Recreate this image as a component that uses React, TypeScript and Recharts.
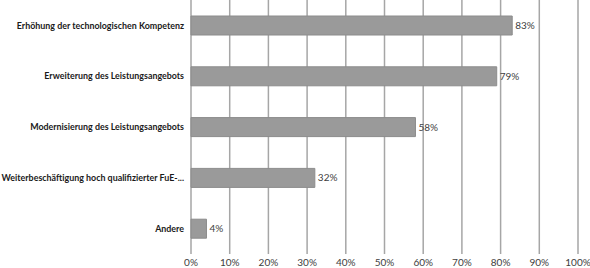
import { BarChart, Bar, XAxis, YAxis, CartesianGrid, LabelList } from "recharts";

const categories = [
  "Erhöhung der technologischen Kompetenz",
  "Erweiterung des Leistungsangebots",
  "Modernisierung des Leistungsangebots",
  "Weiterbeschäftigung hoch qualifizierter FuE-...",
  "Andere",
];
const shares = [83, 79, 58, 32, 4];
const xTicks = [0, 10, 20, 30, 40, 50, 60, 70, 80, 90, 100];

const data = categories.map((name, i) => ({ name, value: shares[i] }));

const font = "Lato, 'Open Sans', sans-serif";

// single-line category label, right aligned against the plot
function CategoryTick({ x, y, payload }: any) {
  return (
    <text x={x} y={y} dy="0.35em" textAnchor="end" fontSize={8.9} fontWeight={700} fill="#1a1a1a" fontFamily={font}>
      {payload.value}
    </text>
  );
}

function PercentTick({ x, y, payload }: any) {
  return (
    <text x={x} y={y} dy="0.35em" textAnchor="middle" fontSize={10} fill="#404040" fontFamily={font}>
      {`${payload.value}%`}
    </text>
  );
}

export default function App() {
  return (
    <div style={{ position: "absolute", left: 0, top: 0, background: "#fff" }}>
      <BarChart
        width={590}
        height={268}
        data={data}
        layout="vertical"
        margin={{ top: 0, right: 12, left: 0, bottom: 0 }}
      >
        <CartesianGrid horizontal={false} stroke="#a6a6a6" strokeWidth={1.5} />
        <XAxis
          type="number"
          domain={[0, 100]}
          ticks={xTicks}
          axisLine={false}
          tickLine={false}
          height={14}
          tickSize={0}
          tickMargin={8}
          interval={0}
          tick={<PercentTick />}
        />
        <YAxis
          type="category"
          dataKey="name"
          width={191}
          axisLine={false}
          tickLine={false}
          tickSize={0}
          tickMargin={7}
          tick={<CategoryTick />}
        />
        <Bar dataKey="value" fill="#9a9a9a" stroke="#8c8c8c" barSize={19} isAnimationActive={false}>
          <LabelList
            dataKey="value"
            position="right"
            offset={3}
            formatter={(v: number) => `${v}%`}
            style={{ fontSize: 10, fill: "#404040", fontFamily: font }}
          />
        </Bar>
      </BarChart>
    </div>
  );
}
